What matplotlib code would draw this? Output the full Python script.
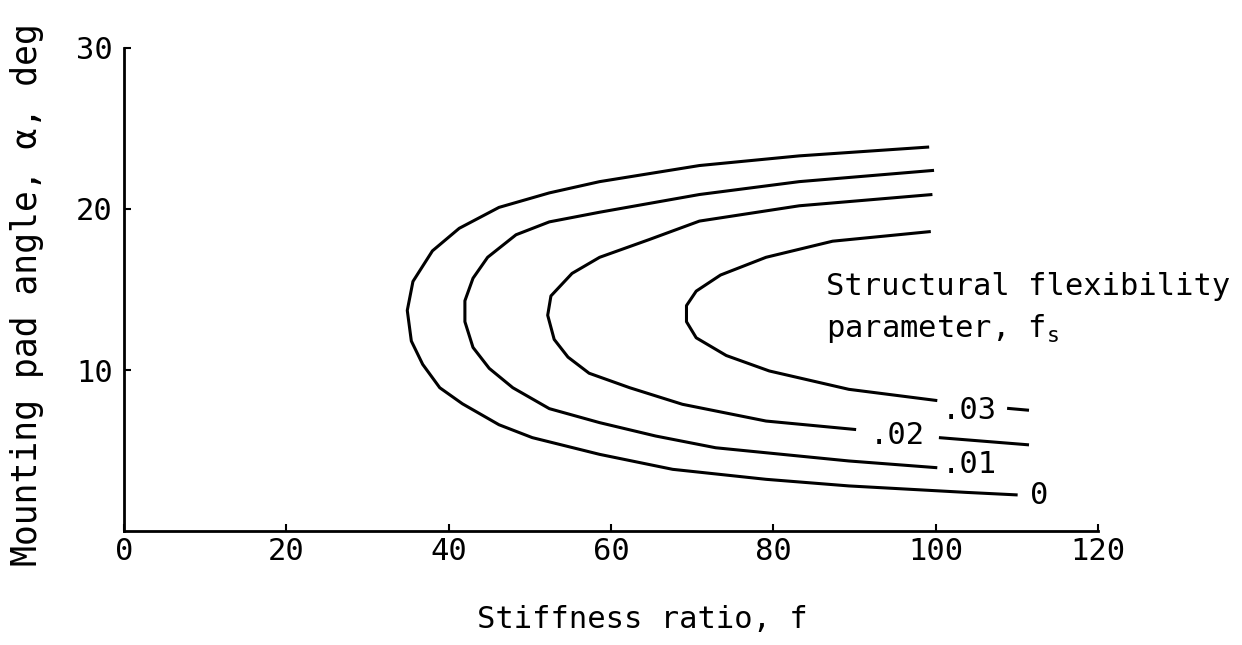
import matplotlib
matplotlib.use("Agg")
import matplotlib.pyplot as plt

plt.rcParams['font.family'] = ['DejaVu Sans Mono', 'DejaVu Sans']
plt.rcParams['mathtext.fontset'] = 'custom'
plt.rcParams['mathtext.rm'] = 'DejaVu Sans Mono'
plt.rcParams['mathtext.it'] = 'DejaVu Sans Mono'

# curves, upper end -> nose -> lower end
f_0 = [99.2, 83.2, 70.9, 58.6, 52.4, 46.2, 41.3, 38.0, 35.6, 34.9, 35.4, 36.8, 38.9,
       41.7, 46.2, 50.3, 58.6, 67.6, 79.1, 89.3, 103.7, 110.1]
a_0 = [23.85, 23.3, 22.7, 21.7, 21.0, 20.1, 18.8, 17.4, 15.5, 13.7, 11.8, 10.35, 8.9,
       7.9, 6.6, 5.8, 4.76, 3.83, 3.21, 2.8, 2.4, 2.24]

f_01 = [99.8, 83.2, 70.9, 58.6, 52.4, 48.3, 44.8, 43.0, 42.0, 42.0, 43.0, 45.0, 47.9,
        52.4, 58.6, 65.5, 72.9, 79.1, 89.3, 100.2]
a_01 = [22.4, 21.7, 20.9, 19.8, 19.2, 18.4, 17.0, 15.7, 14.3, 13.0, 11.4, 10.1, 8.9,
        7.6, 6.73, 5.9, 5.17, 4.86, 4.35, 3.93]

f_02 = [99.6, 83.2, 70.9, 64.7, 58.6, 55.2, 52.6, 52.2, 53.0, 54.7, 57.3, 62.3, 68.8,
        79.1, 90.2]
a_02 = [20.9, 20.2, 19.25, 18.1, 17.0, 16.0, 14.6, 13.4, 11.9, 10.8, 9.8, 8.9, 7.87,
        6.83, 6.3]
f_02_tail = [100.4, 111.5]
a_02_tail = [5.8, 5.35]

f_03 = [99.4, 87.3, 79.1, 73.5, 70.5, 69.3, 69.3, 70.5, 74.2, 79.5, 89.3, 100.2]
a_03 = [18.6, 18.0, 17.0, 15.9, 14.9, 14.0, 13.0, 12.0, 10.9, 9.94, 8.8, 8.1]
f_03_tail = [108.8, 111.5]
a_03_tail = [7.62, 7.5]

curve_labels = [".03", ".02", ".01", "0"]
label_f = [104.2, 95.3, 104.2, 112.7]
label_a = [7.5, 5.95, 4.1, 2.2]

x_ticks = [0, 20, 40, 60, 80, 100, 120]
y_ticks = [10, 20, 30]

fig = plt.figure(figsize=(12.42, 6.45), dpi=100)
ax = fig.add_axes([124 / 1242, 1 - 531 / 645, (1098 - 124) / 1242, (531 - 48) / 645])

lw = 2.2
for fx, ay in [(f_0, a_0), (f_01, a_01), (f_02, a_02), (f_02_tail, a_02_tail),
               (f_03, a_03), (f_03_tail, a_03_tail)]:
    ax.plot(fx, ay, color='black', lw=lw, solid_capstyle='butt')

for lab, fx, ay in zip(curve_labels, label_f, label_a):
    ax.text(fx, ay, lab, fontsize=22, ha='center', va='center')

ax.text(86.5, 15.2, "Structural flexibility", fontsize=22, ha='left', va='center')
ax.text(86.5, 12.6, "parameter, f$_\\mathrm{s}$", fontsize=22, ha='left', va='center')

ax.set_xlim(0, 120)
ax.set_ylim(0, 30)
ax.spines['top'].set_visible(False)
ax.spines['right'].set_visible(False)
for s in ['left', 'bottom']:
    ax.spines[s].set_linewidth(2.0)
ax.set_xticks(x_ticks)
ax.set_yticks(y_ticks)
ax.tick_params(axis='x', direction='in', length=5, width=1.5, labelsize=22, pad=4)
ax.tick_params(axis='y', direction='in', length=5, width=1.5, labelsize=22, pad=8)

fig.text(642 / 1242, 1 - 620 / 645, "Stiffness ratio, f", fontsize=22, ha='center', va='center')
fig.text(27 / 1242, 1 - 295 / 645, "Mounting pad angle, α, deg", fontsize=25,
         ha='center', va='center', rotation=90)

fig.savefig("out.png", dpi=100)
